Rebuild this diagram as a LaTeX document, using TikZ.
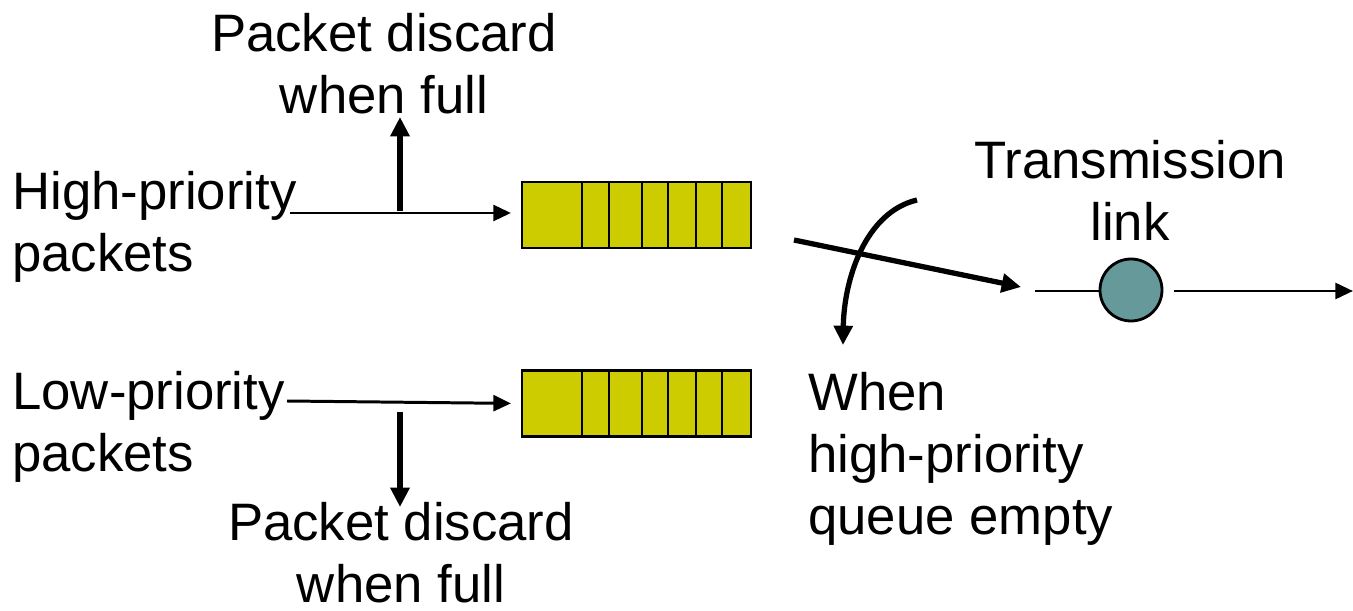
\documentclass[tikz,border=0pt]{standalone}
\usepackage{fontspec}
\setmainfont{Liberation Sans}
\usetikzlibrary{arrows.meta}
\definecolor{queuefill}{RGB}{204,204,0}
\definecolor{linkfill}{RGB}{102,153,153}
\begin{document}
\begin{tikzpicture}[x=0.02cm,y=-0.02cm,
  lbl/.style={inner sep=0pt,font=\fontsize{30}{35.3}\selectfont},
  thinarrow/.style={line width=1.7pt,-{Triangle[length=10pt,width=9pt]}},
  thickarrow/.style={line width=3pt,-{Triangle[length=11pt,width=10.5pt]}},
  queue/.style={draw,line width=1.6pt,fill=queuefill,inner sep=0pt,
    minimum width=4.58cm,minimum height=1.32cm}]
  \useasboundingbox (0,0) rectangle (1353,611);
  % labels
  \node[lbl,anchor=north,align=center] (hidiscard) at (384,13) {Packet discard\\when full};
  \node[lbl,anchor=north west,align=left] (hilabel) at (12,171) {High-priority\\packets};
  \node[lbl,anchor=north west,align=left] (lolabel) at (12,371) {Low-priority\\packets};
  \node[lbl,anchor=north,align=center] (lodiscard) at (401,502) {Packet discard\\when full};
  \node[lbl,anchor=north,align=center] (linklabel) at (1130,140) {Transmission\\link};
  \node[lbl,anchor=north west,align=left] (whenlabel) at (808,372) {When\\high-priority\\queue empty};
  % queues
  \node[queue] (hiq) at (636.5,215) {};
  \node[queue] (loq) at (636.5,403.5) {};
  \foreach \x in {582,609,642,668,696,722} {
    \draw[line width=1.6pt] (\x,182) -- (\x,248);
    \draw[line width=1.6pt] (\x,370.5) -- (\x,436.5);
  }
  % server
  \node[circle,draw,line width=1.6pt,fill=linkfill,minimum size=1.24cm,inner sep=0pt] (srv) at (1131,290) {};
  % arrival arrows
  \coordinate (hiin) at (290,213);
  \coordinate (loin) at (287,401);
  \draw[thinarrow,shorten >=5.5pt] (hiin) -- (hiq.west |- hiin);
  \draw[thinarrow,shorten >=5.5pt] (loin) -- (loq.west);
  % discard arrows
  \coordinate (hidrop) at (400,211);
  \coordinate (hiup) at (400,117);
  \coordinate (lodrop) at (400,412);
  \coordinate (lodown) at (400,507);
  \draw[thickarrow] (hidrop) -- (hiup);
  \draw[thickarrow] (lodrop) -- (lodown);
  % scheduler
  \coordinate (hiout) at (794,240);
  \coordinate (linkin) at (1021,287);
  \draw[thickarrow] (hiout) -- (linkin);
  \coordinate (swtop) at (917,200);
  \coordinate (swbot) at (843,345);
  \draw[thickarrow] (swtop) .. controls (866,212) and (844,278) .. (swbot);
  % transmission link
  \coordinate (linkstart) at (1035,291);
  \coordinate (linkend) at (1353,291);
  \draw[line width=1.7pt] (linkstart) -- (srv.west |- linkstart);
  \draw[thinarrow,shorten <=6pt] (srv.east |- linkend) -- (linkend);
\end{tikzpicture}
\end{document}
